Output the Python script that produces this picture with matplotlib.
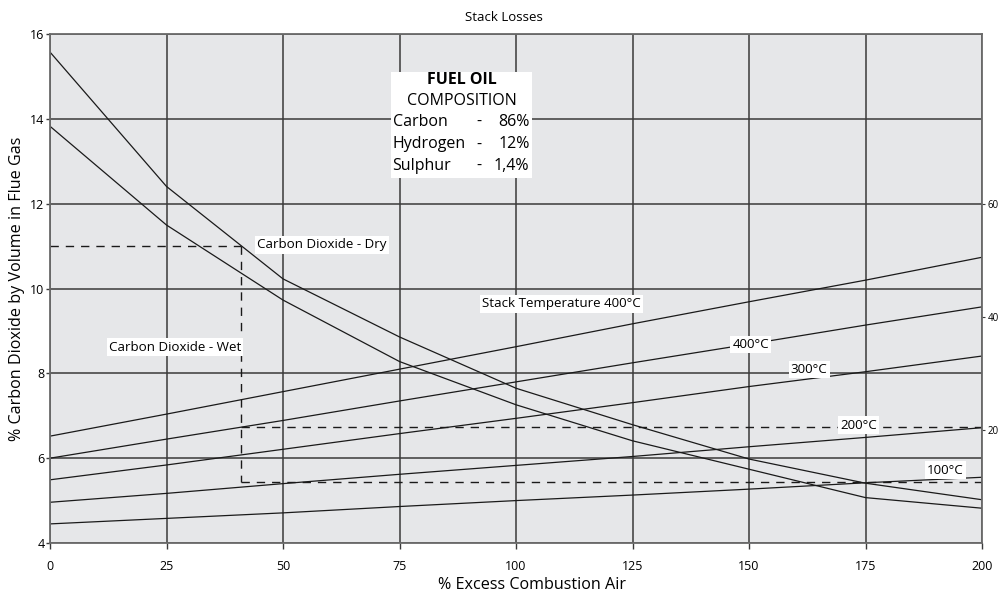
import matplotlib
matplotlib.use("Agg")
import matplotlib.pyplot as plt

plt.rcParams['font.family'] = ['Open Sans', 'DejaVu Sans']

# % excess combustion air
excess_air = [0, 25, 50, 75, 100, 125, 150, 175, 200]

# CO2 curves
co2_dry = [15.58, 12.41, 10.23, 8.86, 7.65, 6.79, 5.98, 5.41, 5.02]
co2_wet = [13.83, 11.50, 9.73, 8.28, 7.26, 6.41, 5.74, 5.07, 4.82]

# stack loss lines (top to bottom)
stack_lines = [
    [6.52, 7.04, 7.57, 8.10, 8.63, 9.17, 9.69, 10.20, 10.74],
    [6.00, 6.45, 6.89, 7.35, 7.80, 8.25, 8.69, 9.14, 9.57],
    [5.49, 5.84, 6.21, 6.58, 6.94, 7.31, 7.69, 8.04, 8.41],
    [4.96, 5.17, 5.40, 5.62, 5.83, 6.04, 6.27, 6.49, 6.72],
    [4.45, 4.58, 4.71, 4.86, 5.00, 5.13, 5.27, 5.42, 5.55],
]

# example reading (dashed)
ex_air = 41
ex_co2 = 11.0
ex_loss_hi = 6.74
ex_loss_lo = 5.43

x_ticks = [0, 25, 50, 75, 100, 125, 150, 175, 200]
y_ticks = [4, 6, 8, 10, 12, 14, 16]
right_ticks = [20, 40, 60]

fig = plt.figure(figsize=(9.98, 5.94), dpi=100)
ax = fig.add_axes([0.0501, 0.0859, 0.9339, 0.8564])
ax.set_facecolor('#e6e7e9')

ax.set_xlim(0, 200)
ax.set_ylim(4, 16)
ax.set_xticks(x_ticks)
ax.set_yticks(y_ticks)
ax.grid(True, color='#3a3a3a', linewidth=1.1)
ax.set_axisbelow(True)
for s in ax.spines.values():
    s.set_color('#6a6a6a')
    s.set_linewidth(1.3)
ax.tick_params(axis='both', labelsize=9, color='#3a3a3a', width=1)
ax.tick_params(axis='x', length=4, pad=8)
ax.tick_params(axis='y', length=3, pad=1)

lw = 0.9
ax.plot(excess_air, co2_dry, color='#1a1a1a', lw=lw)
ax.plot(excess_air, co2_wet, color='#1a1a1a', lw=lw)
for vals in stack_lines:
    ax.plot(excess_air, vals, color='#1a1a1a', lw=lw)

dash = dict(color='#1a1a1a', lw=1.0, linestyle=(0, (6, 5)))
ax.plot([0, ex_air], [ex_co2, ex_co2], **dash)
ax.plot([ex_air, ex_air], [ex_co2, ex_loss_lo], **dash)
ax.plot([ex_air, 200], [ex_loss_hi, ex_loss_hi], **dash)
ax.plot([ex_air, 200], [ex_loss_lo, ex_loss_lo], **dash)

# right axis: stack losses
sec = ax.secondary_yaxis('right', functions=(lambda y: (y - 4) * 7.5, lambda r: r / 7.5 + 4))
sec.set_yticks(right_ticks)
sec.tick_params(labelsize=7, length=2, pad=2, color='#3a3a3a')
sec.spines['right'].set_visible(False)

fs = 9.6
box = dict(facecolor='white', edgecolor='none', pad=1.5)
ax.text(44.5, 11.03, 'Carbon Dioxide - Dry', fontsize=fs, ha='left', va='center', bbox=box)
ax.text(26.8, 8.62, 'Carbon Dioxide - Wet', fontsize=fs, ha='center', va='center', bbox=box)
ax.text(109.7, 9.64, 'Stack Temperature 400°C', fontsize=fs, ha='center', va='center', bbox=box)
ax.text(150.4, 8.68, '400°C', fontsize=fs, ha='center', va='center', bbox=box)
ax.text(162.9, 8.10, '300°C', fontsize=fs, ha='center', va='center', bbox=box)
ax.text(173.5, 6.78, '200°C', fontsize=fs, ha='center', va='center', bbox=box)
ax.text(192.1, 5.72, '100°C', fontsize=fs, ha='center', va='center', bbox=box)

# fuel oil composition box
ax.add_patch(plt.Rectangle((73.2, 12.61), 30.2, 2.5, facecolor='white', edgecolor='none', zorder=3))
ax.text(88.3, 14.92, 'FUEL OIL', fontsize=11.5, fontweight='bold', ha='center', va='center', zorder=4)
ax.text(88.3, 14.42, 'COMPOSITION', fontsize=11.5, ha='center', va='center', zorder=4)
rows = [('Carbon', '86%'), ('Hydrogen', '12%'), ('Sulphur', '1,4%')]
row_y = [13.93, 13.40, 12.89]
for (name, pct), yy in zip(rows, row_y):
    ax.text(73.5, yy, name, fontsize=11.5, ha='left', va='center', zorder=4)
    ax.text(92.1, yy, '-', fontsize=11.5, ha='center', va='center', zorder=4)
    ax.text(102.9, yy, pct, fontsize=11.5, ha='right', va='center', zorder=4)

fig.text(0.505, 0.971, 'Stack Losses', fontsize=9.5, ha='center', va='center')
fig.text(0.533, 0.015, '% Excess Combustion Air', fontsize=11.6, ha='center', va='center')
fig.text(0.017, 0.514, '% Carbon Dioxide by Volume in Flue Gas', fontsize=11.6, rotation=90,
         ha='center', va='center')

fig.savefig('out.png', dpi=100)
